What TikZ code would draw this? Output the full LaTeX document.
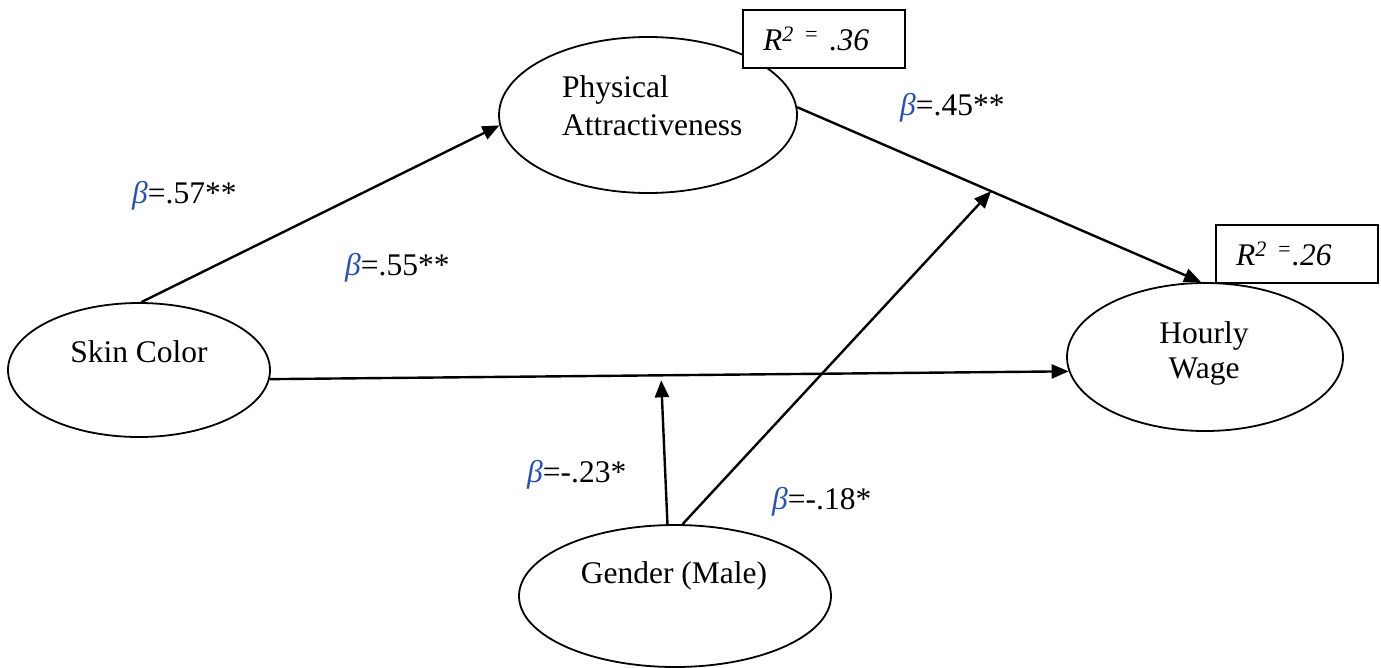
\documentclass[tikz,border=0pt]{standalone}
\usepackage{fontspec}
\setmainfont{Liberation Serif}
\usetikzlibrary{arrows.meta,shapes.geometric,calc}
\definecolor{betablue}{RGB}{45,80,170}
\newcommand{\bet}{{\color{betablue}\itshape β}}

\begin{document}
\begin{tikzpicture}[x=1pt,y=-1pt,font=\fontsize{31.5}{38}\selectfont,
  var/.style={draw,ellipse,line width=1.8pt,inner sep=0pt},
  txt/.style={inner sep=0pt},
  arr/.style={line width=2.4pt,-{Triangle[length=17pt,width=14pt]}},
  rbox/.style={draw,fill=white,line width=1.8pt,minimum height=58pt,text width=122pt,
    align=left,inner xsep=20pt,inner ysep=0pt,font=\fontsize{31.5}{38}\selectfont\itshape}]
  \useasboundingbox (0,0) rectangle (1381,667);
  \node[var,minimum width=262pt,minimum height=134pt] (skin) at (139,370) {};
  \node[var,minimum width=298pt,minimum height=156pt] (phys) at (648,115) {};
  \node[var,minimum width=276pt,minimum height=148pt] (wage) at (1205,357) {};
  \node[var,minimum width=312pt,minimum height=142pt] (gend) at (675,596) {};
  \node[txt,anchor=base] (skint) at (139,362) {Skin Color};
  \node[txt,anchor=base west] (physt1) at (562,97) {Physical};
  \node[txt,anchor=base west] (physt2) at (562,135) {Attractiveness};
  \node[txt,anchor=base] (waget1) at (1204,343) {Hourly};
  \node[txt,anchor=base] (waget2) at (1204,378) {Wage};
  \node[txt,anchor=base] (gendt) at (674,583) {Gender (Male)};

  \draw[arr] (skin.88) -- (phys.184);
  \draw[arr] (skin.-4) -- (wage.186);
  \draw[arr] (phys.3) -- (wage.93);
  \coordinate (m1) at ($(skin.-4)!0.49!(wage.186)+(0,5)$);
  \coordinate (m2) at ($(phys.3)!0.48!(wage.93)$);
  \draw[arr] (gend.96) -- (m1);
  \draw[arr] (gend.84) -- (m2);

  \node[rbox] (r1) at (824,39) {R\textsuperscript{2 =} .36};
  \node[rbox] (r2) at (1297,254) {R\textsuperscript{2 =}.26};

  \node[txt,anchor=base west] (b1) at (132,203) {\bet=.57**};
  \node[txt,anchor=base west] (b2) at (900,115) {\bet=.45**};
  \node[txt,anchor=base west] (b3) at (345,275) {\bet=.55**};
  \node[txt,anchor=base west] (b4) at (527,482) {\bet=-.23*};
  \node[txt,anchor=base west] (b5) at (772,509) {\bet=-.18*};
\end{tikzpicture}
\end{document}
